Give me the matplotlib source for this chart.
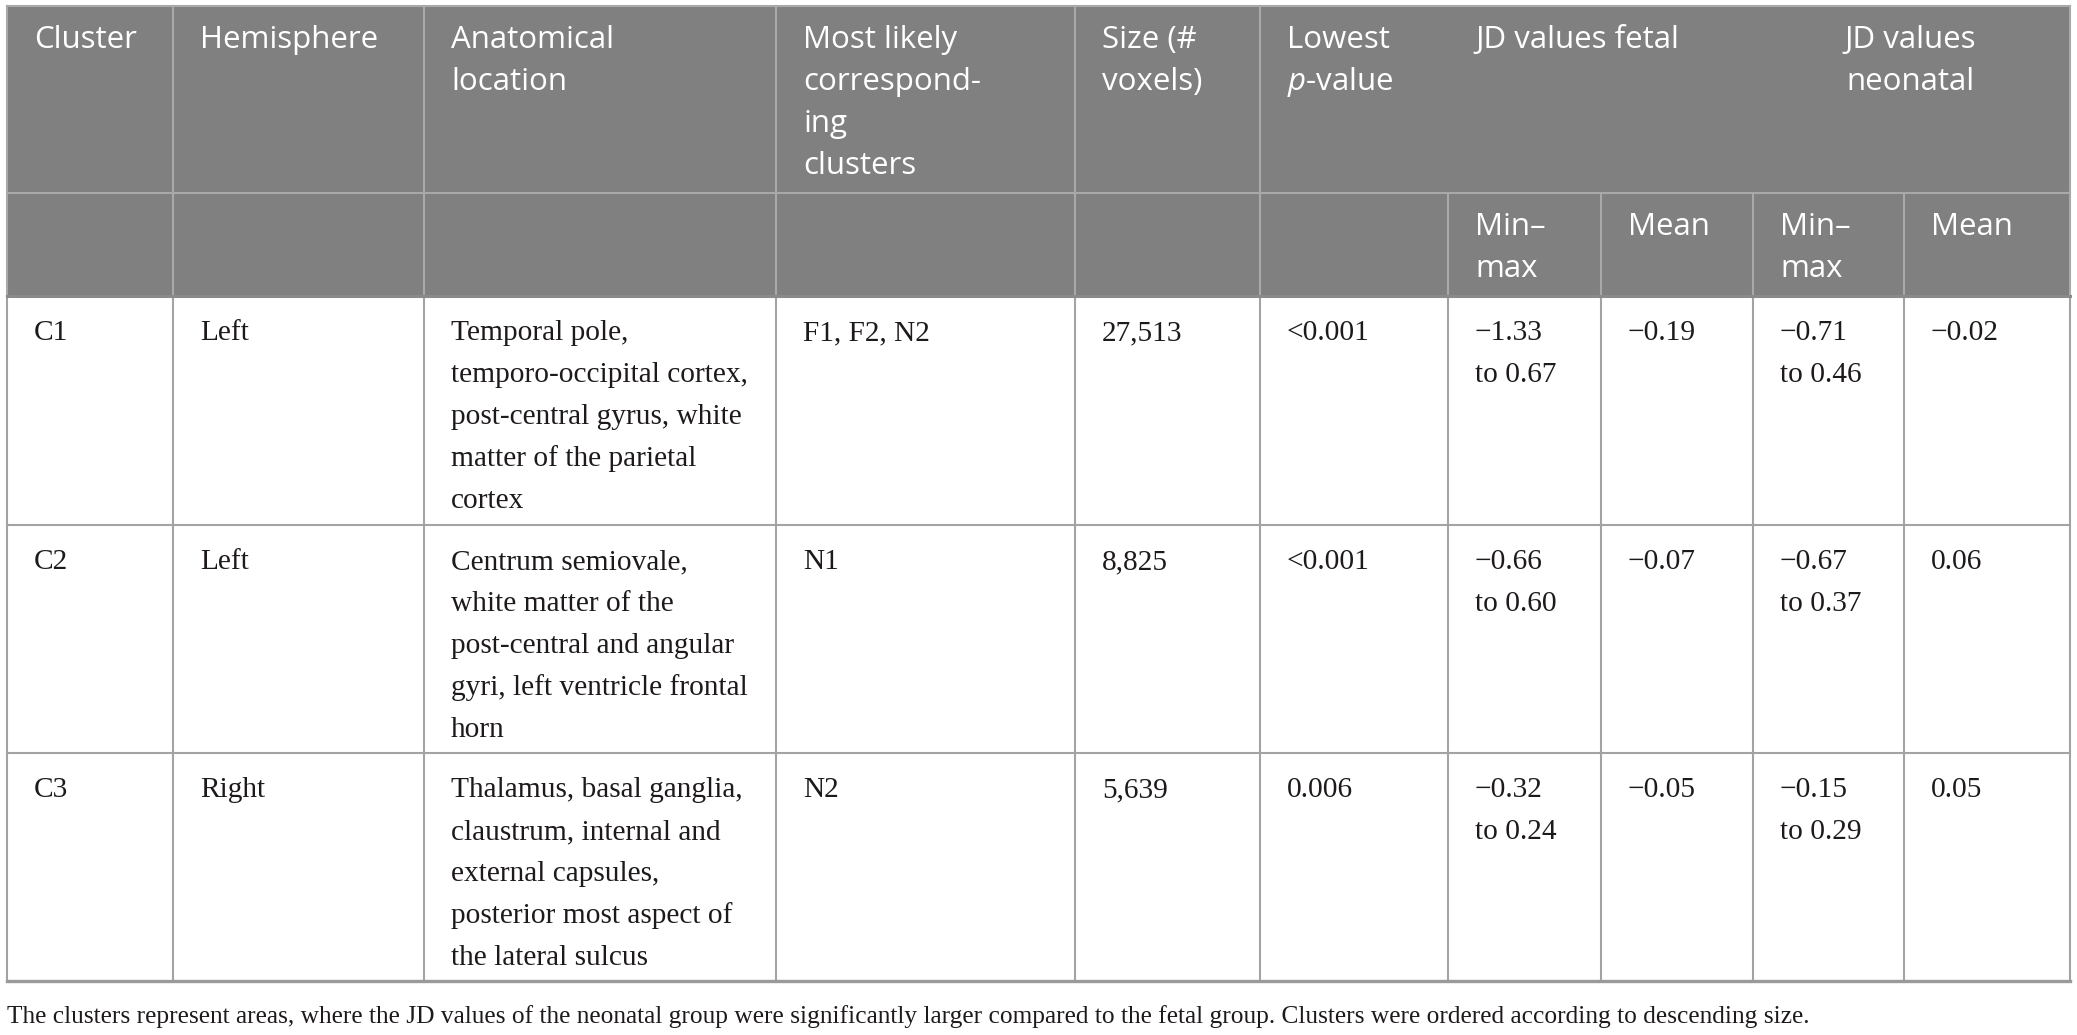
import matplotlib
matplotlib.use("Agg")
import matplotlib.pyplot as plt
from matplotlib.patches import Rectangle

# ---------------- data ----------------
clusters = ["C1", "C2", "C3"]
hemispheres = ["Left", "Left", "Right"]
locations = [
    ["Temporal pole,", "temporo-occipital cortex,", "post-central gyrus, white",
     "matter of the parietal", "cortex"],
    ["Centrum semiovale,", "white matter of the", "post-central and angular",
     "gyri, left ventricle frontal", "horn"],
    ["Thalamus, basal ganglia,", "claustrum, internal and", "external capsules,",
     "posterior most aspect of", "the lateral sulcus"],
]
corresponding = ["F1, F2, N2", "N1", "N2"]
sizes = ["27,513", "8,825", "5,639"]
pvalues = ["<0.001", "<0.001", "0.006"]
fetal_minmax = [["\u22121.33", "to 0.67"], ["\u22120.66", "to 0.60"], ["\u22120.32", "to 0.24"]]
fetal_mean = ["\u22120.19", "\u22120.07", "\u22120.05"]
neo_minmax = [["\u22120.71", "to 0.46"], ["\u22120.67", "to 0.37"], ["\u22120.15", "to 0.29"]]
neo_mean = ["\u22120.02", "0.06", "0.05"]

header_cells = [
    ["Cluster"],
    ["Hemisphere"],
    ["Anatomical", "location"],
    ["Most likely", "correspond-", "ing", "clusters"],
    ["Size (#", "voxels)"],
    ["Lowest", r"$\mathit{p}$-value"],
]
header_jd_fetal = ["JD values fetal"]
header_jd_neo = ["JD values", "neonatal"]
subheaders = [["Min\u2013", "max"], ["Mean"], ["Min\u2013", "max"], ["Mean"]]
caption = ("The clusters represent areas, where the JD values of the neonatal group were "
           "significantly larger compared to the fetal group. Clusters were ordered according "
           "to descending size.")

# ---------------- layout ----------------
W, H = 2077, 1035
cols = [7, 173, 424, 776, 1075, 1260, 1448, 1601, 1753, 1904, 2070]
top, h1, h2 = 6, 193, 296
row_bounds = [296, 525, 753, 981]
pad = 27
hdr_line = 42
body_line = 42

plt.rcParams["mathtext.fontset"] = "custom"
plt.rcParams["mathtext.rm"] = "Open Sans"
plt.rcParams["mathtext.it"] = "Open Sans:italic"

fig = plt.figure(figsize=(W / 100, H / 100), dpi=100)
ax = fig.add_axes([0, 0, 1, 1])
ax.set_xlim(0, W)
ax.set_ylim(H, 0)
ax.axis("off")

hdr_fill = "#808080"
hdr_grid = "#a9a9a9"
body_grid = "#a3a3a3"
txt_col = "#1e1a1b"
sans = "Open Sans"
serif = "Liberation Serif"
hsize = 22.5
bsize = 21.2
csize = 18.3

# header background
ax.add_patch(Rectangle((cols[0], top), cols[-1] - cols[0], h2 - top,
                       facecolor=hdr_fill, edgecolor="none", zorder=0))

# header grid lines
lw_h = 1.5
ax.plot([cols[0], cols[-1]], [top, top], color=hdr_grid, lw=lw_h)
ax.plot([cols[0], cols[-1]], [h1, h1], color=hdr_grid, lw=lw_h)
for x in cols[1:6]:
    ax.plot([x, x], [top, h2], color=hdr_grid, lw=lw_h)
for x in cols[6:10]:
    ax.plot([x, x], [h1, h2], color=hdr_grid, lw=lw_h)
ax.plot([cols[0], cols[0]], [top, h2], color=hdr_grid, lw=lw_h)
ax.plot([cols[-1], cols[-1]], [top, h2], color=hdr_grid, lw=lw_h)

# header texts
first_base = 48
for ci, lines in enumerate(header_cells):
    for li, t in enumerate(lines):
        ax.text(cols[ci] + pad, first_base + li * hdr_line, t, color="white",
                fontsize=hsize, family=sans, ha="left", va="baseline")
for li, t in enumerate(header_jd_fetal):
    ax.text(cols[6] + pad, first_base + li * hdr_line, t, color="white",
            fontsize=hsize, family=sans, ha="left", va="baseline")
for li, t in enumerate(header_jd_neo):
    ax.text(1910, first_base + li * hdr_line, t, color="white",
            fontsize=hsize, family=sans, ha="center", va="baseline")
sub_base = 235
for k, lines in enumerate(subheaders):
    for li, t in enumerate(lines):
        ax.text(cols[6 + k] + pad, sub_base + li * hdr_line, t, color="white",
                fontsize=hsize, family=sans, ha="left", va="baseline")

# body grid
lw_b = 1.5
for x in cols:
    ax.plot([x, x], [h2, row_bounds[-1]], color=body_grid, lw=lw_b, zorder=1)
for y in row_bounds[1:-1]:
    ax.plot([cols[0], cols[-1]], [y, y], color=body_grid, lw=lw_b, zorder=1)
ax.plot([cols[0], cols[-1]], [row_bounds[-1], row_bounds[-1]], color="#9a9a9a", lw=2.4, zorder=2)
ax.plot([cols[0], cols[-1]], [h2, h2], color="#8a8a8a", lw=2.2, zorder=2)

# body texts
for r in range(3):
    base = row_bounds[r] + 44
    cells = [
        [clusters[r]], [hemispheres[r]], locations[r], [corresponding[r]],
        [sizes[r]], [pvalues[r]], fetal_minmax[r], [fetal_mean[r]],
        neo_minmax[r], [neo_mean[r]],
    ]
    for ci, lines in enumerate(cells):
        for li, t in enumerate(lines):
            ax.text(cols[ci] + pad, base + li * body_line, t, color=txt_col,
                    fontsize=bsize, family=serif, ha="left", va="baseline")

# caption
ax.text(cols[0], 1023, caption, color=txt_col, fontsize=csize, family=serif,
        ha="left", va="baseline")

fig.savefig("out.png", dpi=100, facecolor="white")
